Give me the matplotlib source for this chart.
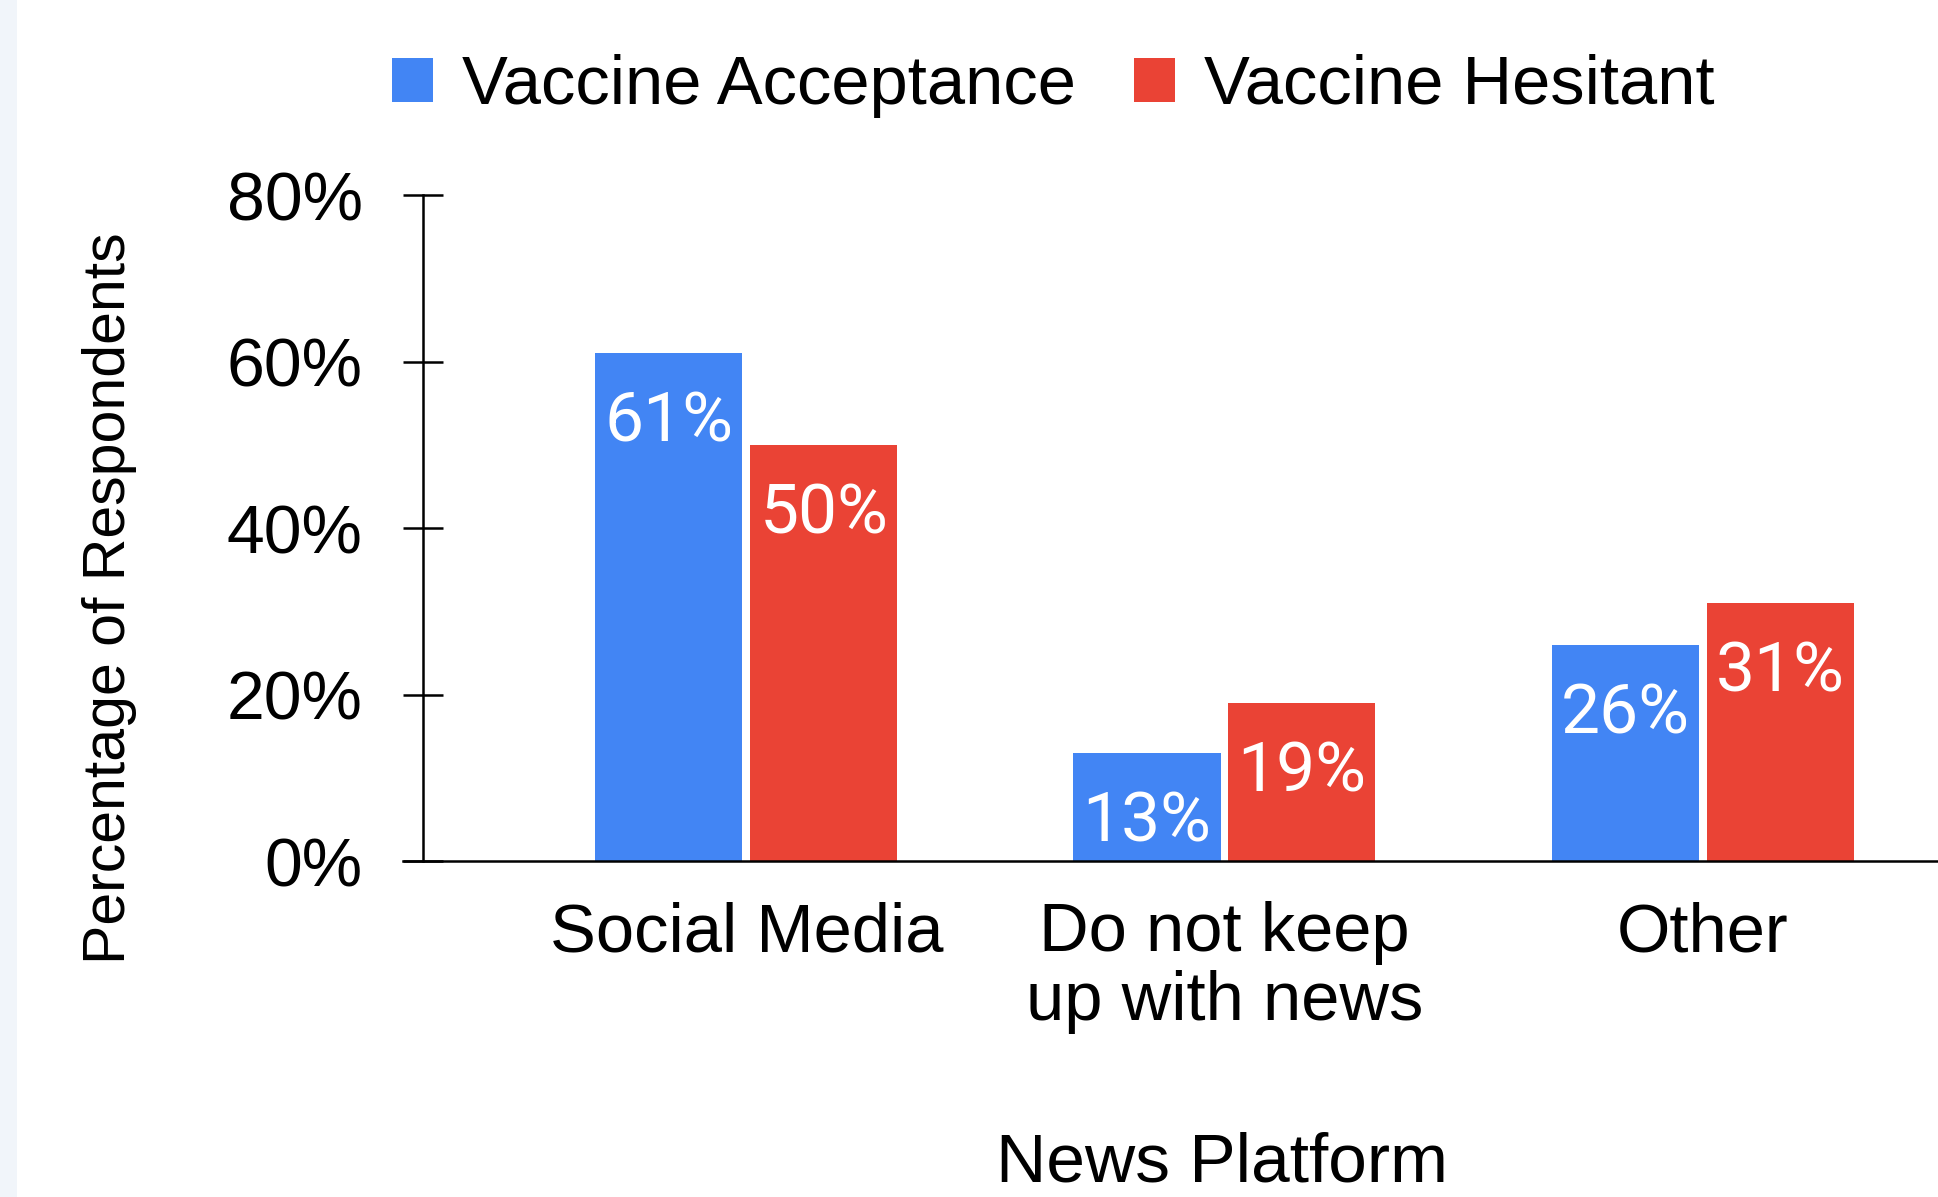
"""Grouped bar chart: news platform by vaccine attitude."""

import matplotlib
matplotlib.use("Agg")
import matplotlib.pyplot as plt
import numpy as np
from matplotlib.patches import Patch, Rectangle


categories = ["Social Media", "Do not keep\nup with news", "Other"]
acceptance = [61, 13, 26]
hesitant = [50, 19, 31]
series_names = ["Vaccine Acceptance", "Vaccine Hesitant"]
y_ticks = [0, 20, 40, 60, 80]

BLUE = "#4285F4"
RED = "#EA4335"
TEXT_FONT = ["Liberation Sans", "DejaVu Sans"]
LABEL_FONT = ["Roboto", "DejaVu Sans"]


def main() -> None:
    fig = plt.figure(figsize=(19.38, 11.97), dpi=100)
    fig.patch.set_facecolor("white")

    # light strip down the left edge
    fig.add_artist(
        Rectangle((0, 0), 17 / 1938, 1, transform=fig.transFigure,
                  facecolor="#f1f5fa", edgecolor="none", zorder=0)
    )

    ax = fig.add_axes([423 / 1938, 0.2803, 1 - 423 / 1938, 0.5567])
    x = np.arange(len(categories))
    width = 0.3075
    offset = 0.162

    bars_a = ax.bar(x - offset, acceptance, width, color=BLUE, zorder=2)
    bars_h = ax.bar(x + offset, hesitant, width, color=RED, zorder=2)

    for bars, values in ((bars_a, acceptance), (bars_h, hesitant)):
        for bar, val in zip(bars, values):
            ax.annotate(
                f"{val}%",
                xy=(bar.get_x() + bar.get_width() / 2, bar.get_height()),
                xytext=(0, -26),
                textcoords="offset points",
                ha="center",
                va="top",
                color="white",
                fontsize=50,
                family=LABEL_FONT,
                zorder=3,
            )

    ax.set_xlim(-0.676, 2.492)
    ax.set_ylim(0, 80)
    ax.set_yticks(y_ticks)
    ax.set_yticklabels([f"{t}%" for t in y_ticks], family=TEXT_FONT, fontsize=49)
    ax.set_xticks(x)
    ax.set_xticklabels(categories, family=TEXT_FONT, fontsize=49.5)
    for label in ax.get_xticklabels():
        label.set_linespacing(1.1)

    ax.tick_params(axis="y", direction="inout", length=29, width=1.8, pad=29, colors="black")
    ax.tick_params(axis="x", length=0, pad=28.5, colors="black")

    for side in ("top", "right"):
        ax.spines[side].set_visible(False)
    ax.spines["left"].set_linewidth(1.8)
    ax.spines["bottom"].set_linewidth(1.8)
    ax.spines["bottom"].set_bounds(-0.676 - 20 / 478, 2.492)
    ax.spines["bottom"].set_clip_on(False)
    ax.set_facecolor("white")

    fig.text(110 / 1938, 1 - 598 / 1197, "Percentage of Respondents", rotation=90,
             ha="center", va="center", fontsize=42.5, family=TEXT_FONT)
    fig.text(1222 / 1938, 2 / 1197, "News Platform",
             ha="center", va="bottom", fontsize=50, family=TEXT_FONT)

    handles = [Patch(facecolor=BLUE, edgecolor="none"), Patch(facecolor=RED, edgecolor="none")]
    fig.legend(
        handles,
        series_names,
        loc="center",
        bbox_to_anchor=(1053 / 1938, 1 - 86 / 1197),
        ncol=2,
        frameon=False,
        prop={"family": TEXT_FONT, "size": 49.5},
        handlelength=0.6,
        handleheight=0.6,
        handletextpad=0.42,
        columnspacing=0.84,
    )

    fig.savefig("out.png", dpi=100, facecolor=fig.get_facecolor())
    plt.close(fig)


if __name__ == "__main__":
    main()
